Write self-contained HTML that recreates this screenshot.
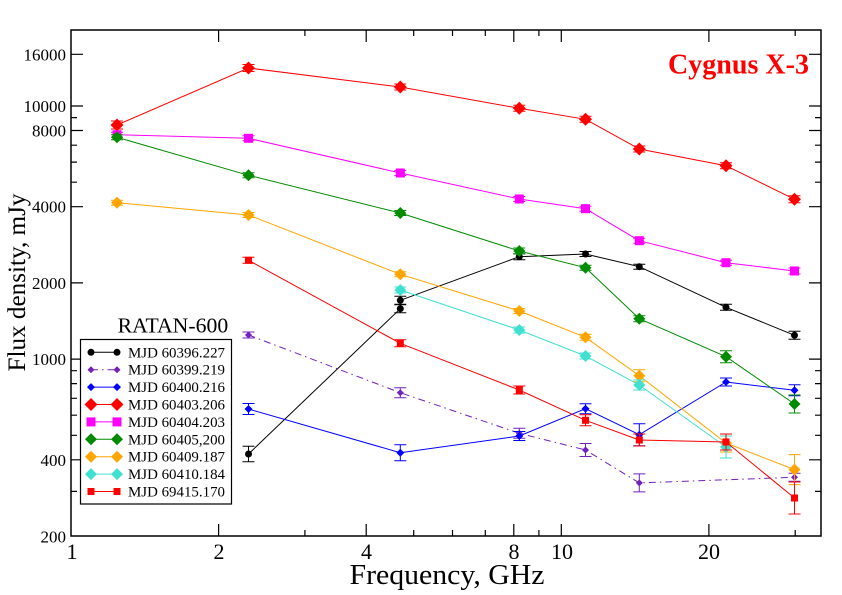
<!DOCTYPE html>
<html><head><meta charset="utf-8">
<style>
html,body{margin:0;padding:0;background:#fff;}
svg{display:block;}
text{font-family:"Liberation Serif","DejaVu Serif",serif;}
</style></head>
<body>
<svg width="842" height="595" viewBox="0 0 842 595" xmlns="http://www.w3.org/2000/svg">
<defs>
 <g id="dR"><polygon points="0,-6.5 6.5,0 0,6.5 -6.5,0" fill="#ff0000"/></g>
 <g id="sM"><rect x="-4.5" y="-4.5" width="9" height="9" fill="#ff00ff"/></g>
 <g id="dG"><polygon points="0,-6 6,0 0,6 -6,0" fill="#008b00"/></g>
 <g id="dO"><polygon points="0,-6 6,0 0,6 -6,0" fill="#ffa500"/></g>
 <g id="dC"><polygon points="0,-6 6,0 0,6 -6,0" fill="#40e0d0"/></g>
 <g id="sR"><rect x="-3.5" y="-3.5" width="7" height="7" fill="#ff0000"/></g>
 <g id="cK"><circle cx="0" cy="0" r="3.5" fill="#000"/></g>
 <g id="dP"><polygon points="0,-3.5 3.5,0 0,3.5 -3.5,0" fill="#7221bc"/></g>
 <g id="dB"><polygon points="0,-4 4,0 0,4 -4,0" fill="#0000ff"/></g>
</defs>
<rect x="0" y="0" width="842" height="595" fill="#fff"/>

<!-- Ticks -->
<g stroke="#000" stroke-width="1.2" fill="none">
 <!-- y major left -->
 <path d="M71,459.8h12 M71,359.1h12 M71,282.9h12 M71,206.7h12 M71,130.5h12 M71,106h12 M71,54.3h12"/>
 <!-- y minor left -->
 <path d="M71,491.4h6 M71,435.3h6 M71,415.2h6 M71,398.3h6 M71,383.6h6 M71,370.7h6 M71,182.2h6 M71,162.1h6 M71,145.2h6 M71,117.6h6"/>
 <!-- y major right -->
 <path d="M821,459.8h-12 M821,359.1h-12 M821,282.9h-12 M821,206.7h-12 M821,130.5h-12 M821,106h-12 M821,54.3h-12"/>
 <path d="M821,491.4h-6 M821,435.3h-6 M821,415.2h-6 M821,398.3h-6 M821,383.6h-6 M821,370.7h-6 M821,182.2h-6 M821,162.1h-6 M821,145.2h-6 M821,117.6h-6"/>
 <!-- x major bottom -->
 <path d="M218.6,536v-12 M366.2,536v-12 M513.8,536v-12 M561.3,536v-12 M708.9,536v-12"/>
 <path d="M304.9,536v-6 M413.7,536v-6 M452.5,536v-6 M485.3,536v-6 M538.9,536v-6 M795.2,536v-6"/>
 <!-- x top -->
 <path d="M218.6,30v12 M366.2,30v12 M513.8,30v12 M561.3,30v12 M708.9,30v12"/>
 <path d="M304.9,30v6 M413.7,30v6 M452.5,30v6 M485.3,30v6 M538.9,30v6 M795.2,30v6"/>
</g>

<!-- Y tick labels -->
<g font-size="17" text-anchor="end" fill="#000">
 <text x="66" y="60.3">16000</text>
 <text x="66" y="112">10000</text>
 <text x="66" y="136.5">8000</text>
 <text x="66" y="212.7">4000</text>
 <text x="66" y="288.9">2000</text>
 <text x="66" y="365.1">1000</text>
 <text x="66" y="465.8">400</text>
 <text x="66" y="542.5">200</text>
</g>
<!-- X tick labels -->
<g font-size="22" text-anchor="middle" fill="#000">
 <text x="72" y="559">1</text>
 <text x="219" y="559">2</text>
 <text x="366.5" y="559">4</text>
 <text x="514" y="559">8</text>
 <text x="562" y="559">10</text>
 <text x="709" y="559">20</text>
</g>
<!-- axis labels -->
<text x="447" y="584" font-size="28" text-anchor="middle" textLength="195" lengthAdjust="spacingAndGlyphs">Frequency, GHz</text>
<text transform="translate(25,282.5) rotate(-90)" font-size="25" text-anchor="middle" textLength="178" lengthAdjust="spacingAndGlyphs">Flux density, mJy</text>
<!-- title -->
<text x="668" y="73.3" font-size="28" font-weight="bold" fill="#ff0000" textLength="141" lengthAdjust="spacingAndGlyphs">Cygnus X-3</text>

<!-- Series: black 60396.227 -->
<g stroke="#000" stroke-width="1" fill="none">
 <polyline points="248.5,454 400.3,308.7 400.3,300.3 519.3,256.7 585.5,254 639.3,266.7 726,307.3 794.5,335.3"/>
 <path d="M248.5,446.3V461.7M242.5,446.3h12M242.5,461.7h12
 M400.3,304.7V312.7M394.3,304.7h12M394.3,312.7h12
 M400.3,296.3V304.3M394.3,296.3h12M394.3,304.3h12
 M519.3,253.7V259.7M513.3,253.7h12M513.3,259.7h12
 M585.5,251.5V256.5M579.5,251.5h12M579.5,256.5h12
 M639.3,264.2V269.2M633.3,264.2h12M633.3,269.2h12
 M726,304.3V310.3M720,304.3h12M720,310.3h12
 M794.5,331.3V339.3M788.5,331.3h12M788.5,339.3h12"/>
</g>
<g>
 <use href="#cK" x="248.5" y="454"/><use href="#cK" x="400.3" y="308.7"/><use href="#cK" x="400.3" y="300.3"/>
 <use href="#cK" x="519.3" y="256.7"/><use href="#cK" x="585.5" y="254"/><use href="#cK" x="639.3" y="266.7"/>
 <use href="#cK" x="726" y="307.3"/><use href="#cK" x="794.5" y="335.3"/>
</g>

<!-- purple 60399.219 -->
<g stroke="#7221bc" stroke-width="1" fill="none">
 <polyline points="248.5,335 400.3,392.7 519.3,433.3 585.5,450 639.3,482.9 794.5,477.3" stroke-dasharray="7,4,1.5,4"/>
 <path d="M248.5,332V338M242.5,332h12M242.5,338h12
 M400.3,387.7V397.7M394.3,387.7h12M394.3,397.7h12
 M519.3,428.3V438.3M513.3,428.3h12M513.3,438.3h12
 M585.5,443.5V456.5M579.5,443.5h12M579.5,456.5h12
 M639.3,473.9V491.9M633.3,473.9h12M633.3,491.9h12
 M794.5,473.3V481.3M788.5,473.3h12M788.5,481.3h12"/>
</g>
<g>
 <use href="#dP" x="248.5" y="335"/><use href="#dP" x="400.3" y="392.7"/><use href="#dP" x="519.3" y="433.3"/>
 <use href="#dP" x="585.5" y="450"/><use href="#dP" x="639.3" y="482.9"/><use href="#dP" x="794.5" y="477.3"/>
</g>

<!-- blue 60400.216 -->
<g stroke="#0000ff" stroke-width="1" fill="none">
 <polyline points="248.5,409 400.3,452.7 519.3,436 585.5,408.7 639.3,434.7 726,382 794.5,390.3"/>
 <path d="M248.5,403.5V414.5M242.5,403.5h12M242.5,414.5h12
 M400.3,444.7V460.7M394.3,444.7h12M394.3,460.7h12
 M519.3,431.5V440.5M513.3,431.5h12M513.3,440.5h12
 M585.5,403.7V413.7M579.5,403.7h12M579.5,413.7h12
 M639.3,423.7V445.7M633.3,423.7h12M633.3,445.7h12
 M726,378V386M720,378h12M720,386h12
 M794.5,384.8V395.8M788.5,384.8h12M788.5,395.8h12"/>
</g>
<g>
 <use href="#dB" x="248.5" y="409"/><use href="#dB" x="400.3" y="452.7"/><use href="#dB" x="519.3" y="436"/>
 <use href="#dB" x="585.5" y="408.7"/><use href="#dB" x="639.3" y="434.7"/><use href="#dB" x="726" y="382"/>
 <use href="#dB" x="794.5" y="390.3"/>
</g>

<!-- red diamonds 60403.206 -->
<g stroke="#ff0000" stroke-width="1" fill="none">
 <polyline points="117,125 248.5,68 400.3,87 519.3,108.3 585.5,119.3 639.3,149 726,165.7 794.5,199.3"/>
 <path d="M117,121V129M111,121h12M111,129h12
 M248.5,64.5V71.5M242.5,64.5h12M242.5,71.5h12
 M400.3,84V90M394.3,84h12M394.3,90h12
 M519.3,105.3V111.3M513.3,105.3h12M513.3,111.3h12
 M585.5,116.3V122.3M579.5,116.3h12M579.5,122.3h12
 M639.3,146V152M633.3,146h12M633.3,152h12
 M726,162.7V168.7M720,162.7h12M720,168.7h12
 M794.5,195.8V202.8M788.5,195.8h12M788.5,202.8h12"/>
</g>
<g>
 <use href="#dR" x="117" y="125"/><use href="#dR" x="248.5" y="68"/><use href="#dR" x="400.3" y="87"/>
 <use href="#dR" x="519.3" y="108.3"/><use href="#dR" x="585.5" y="119.3"/><use href="#dR" x="639.3" y="149"/>
 <use href="#dR" x="726" y="165.7"/><use href="#dR" x="794.5" y="199.3"/>
</g>

<!-- magenta 60404.203 -->
<g stroke="#ff00ff" stroke-width="1" fill="none">
 <polyline points="117,134.7 248.5,138.3 400.3,173 519.3,199 585.5,208.7 639.3,240.7 726,262.7 794.5,271"/>
 <path d="M111,132.2h12M111,137.2h12 M242.5,135.8h12M242.5,140.8h12 M394.3,170.5h12M394.3,175.5h12
 M513.3,196.5h12M513.3,201.5h12 M579.5,206.2h12M579.5,211.2h12 M633.3,238.2h12M633.3,243.2h12
 M720,260.2h12M720,265.2h12 M788.5,268h12M788.5,274h12"/>
</g>
<g>
 <use href="#sM" x="117" y="134.7"/><use href="#sM" x="248.5" y="138.3"/><use href="#sM" x="400.3" y="173"/>
 <use href="#sM" x="519.3" y="199"/><use href="#sM" x="585.5" y="208.7"/><use href="#sM" x="639.3" y="240.7"/>
 <use href="#sM" x="726" y="262.7"/><use href="#sM" x="794.5" y="271"/>
</g>

<!-- green 60405.200 -->
<g stroke="#008b00" stroke-width="1" fill="none">
 <polyline points="117,137.3 248.5,175.3 400.3,213 519.3,251 585.5,267.7 639.3,318.7 726,356.7 794.5,404"/>
 <path d="M111,134.8h12M111,139.8h12 M242.5,172.8h12M242.5,177.8h12 M394.3,210.5h12M394.3,215.5h12
 M513.3,248h12M513.3,254h12 M579.5,265.2h12M579.5,270.2h12 M633.3,315.7h12M633.3,321.7h12
 M726,350.7V362.7M720,350.7h12M720,362.7h12
 M794.5,395V413M788.5,395h12M788.5,413h12"/>
</g>
<g>
 <use href="#dG" x="117" y="137.3"/><use href="#dG" x="248.5" y="175.3"/><use href="#dG" x="400.3" y="213"/>
 <use href="#dG" x="519.3" y="251"/><use href="#dG" x="585.5" y="267.7"/><use href="#dG" x="639.3" y="318.7"/>
 <use href="#dG" x="726" y="356.7"/><use href="#dG" x="794.5" y="404"/>
</g>

<!-- orange 60409.187 -->
<g stroke="#ffa500" stroke-width="1" fill="none">
 <polyline points="117,202.7 248.5,215 400.3,274.3 519.3,311 585.5,337.3 639.3,375.7 726,443 794.5,469.6"/>
 <path d="M111,200.2h12M111,205.2h12 M242.5,212.5h12M242.5,217.5h12 M394.3,271.8h12M394.3,276.8h12
 M513.3,308.5h12M513.3,313.5h12 M579.5,334.3h12M579.5,340.3h12
 M639.3,369.7V381.7M633.3,369.7h12M633.3,381.7h12
 M726,434V452M720,434h12M720,452h12
 M794.5,454.6V484.6M788.5,454.6h12M788.5,484.6h12"/>
</g>
<g>
 <use href="#dO" x="117" y="202.7"/><use href="#dO" x="248.5" y="215"/><use href="#dO" x="400.3" y="274.3"/>
 <use href="#dO" x="519.3" y="311"/><use href="#dO" x="585.5" y="337.3"/><use href="#dO" x="639.3" y="375.7"/>
 <use href="#dO" x="726" y="443"/><use href="#dO" x="794.5" y="469.6"/>
</g>

<!-- cyan 60410.184 -->
<g stroke="#40e0d0" stroke-width="1" fill="none">
 <polyline points="400.3,290 519.3,330 585.5,356 639.3,385 726,447"/>
 <path d="M394.3,287h12M394.3,293h12 M513.3,327h12M513.3,333h12 M579.5,353h12M579.5,359h12
 M639.3,380V390M633.3,380h12M633.3,390h12
 M726,436V458M720,436h12M720,458h12"/>
</g>
<g>
 <use href="#dC" x="400.3" y="290"/><use href="#dC" x="519.3" y="330"/><use href="#dC" x="585.5" y="356"/>
 <use href="#dC" x="639.3" y="385"/><use href="#dC" x="726" y="447"/>
</g>

<!-- red squares 69415.170 -->
<g stroke="#ff0000" stroke-width="1" fill="none">
 <polyline points="248.5,260.3 400.3,343.3 519.3,390 585.5,420.3 639.3,440 726,442 794.5,498"/>
 <path d="M248.5,257.3V263.3M242.5,257.3h12M242.5,263.3h12
 M400.3,339.8V346.8M394.3,339.8h12M394.3,346.8h12
 M519.3,386V394M513.3,386h12M513.3,394h12
 M585.5,414.8V425.8M579.5,414.8h12M579.5,425.8h12
 M639.3,434V446M633.3,434h12M633.3,446h12
 M726,434V450M720,434h12M720,450h12
 M794.5,482V514M788.5,482h12M788.5,514h12"/>
</g>
<g>
 <use href="#sR" x="248.5" y="260.3"/><use href="#sR" x="400.3" y="343.3"/><use href="#sR" x="519.3" y="390"/>
 <use href="#sR" x="585.5" y="420.3"/><use href="#sR" x="639.3" y="440"/><use href="#sR" x="726" y="442"/>
 <use href="#sR" x="794.5" y="498"/>
</g>

<!-- frame -->
<rect x="71" y="30" width="750" height="506" fill="none" stroke="#000" stroke-width="1.5"/>

<!-- Legend -->
<text x="117.7" y="332.7" font-size="21" textLength="110.5" lengthAdjust="spacingAndGlyphs">RATAN-600</text>
<rect x="80.5" y="339.5" width="151" height="164.5" fill="#fff" stroke="#000" stroke-width="1.2"/>
<g stroke-width="1" fill="none">
 <line x1="91" y1="352.3" x2="117" y2="352.3" stroke="#000"/>
 <line x1="91" y1="369.7" x2="117" y2="369.7" stroke="#7221bc" stroke-dasharray="7,4,1.5,4"/>
 <line x1="91" y1="387.1" x2="117" y2="387.1" stroke="#0000ff"/>
 <line x1="91" y1="404.5" x2="117" y2="404.5" stroke="#ff0000"/>
 <line x1="91" y1="421.9" x2="117" y2="421.9" stroke="#ff00ff"/>
 <line x1="91" y1="439.3" x2="117" y2="439.3" stroke="#008b00"/>
 <line x1="91" y1="456.7" x2="117" y2="456.7" stroke="#ffa500"/>
 <line x1="91" y1="474.1" x2="117" y2="474.1" stroke="#40e0d0"/>
 <line x1="91" y1="491.5" x2="117" y2="491.5" stroke="#ff0000"/>
</g>
<g>
 <use href="#cK" x="91" y="352.3"/><use href="#cK" x="117" y="352.3"/>
 <use href="#dP" x="91" y="369.7"/><use href="#dP" x="117" y="369.7"/>
 <use href="#dB" x="91" y="387.1"/><use href="#dB" x="117" y="387.1"/>
 <use href="#dR" x="91" y="404.5"/><use href="#dR" x="117" y="404.5"/>
 <use href="#sM" x="91" y="421.9"/><use href="#sM" x="117" y="421.9"/>
 <use href="#dG" x="91" y="439.3"/><use href="#dG" x="117" y="439.3"/>
 <use href="#dO" x="91" y="456.7"/><use href="#dO" x="117" y="456.7"/>
 <use href="#dC" x="91" y="474.1"/><use href="#dC" x="117" y="474.1"/>
 <use href="#sR" x="91" y="491.5"/><use href="#sR" x="117" y="491.5"/>
</g>
<g font-size="15" fill="#000">
 <text x="128" y="357.3" textLength="97" lengthAdjust="spacingAndGlyphs">MJD 60396.227</text>
 <text x="128" y="374.7" textLength="97" lengthAdjust="spacingAndGlyphs">MJD 60399.219</text>
 <text x="128" y="392.1" textLength="97" lengthAdjust="spacingAndGlyphs">MJD 60400.216</text>
 <text x="128" y="409.5" textLength="97" lengthAdjust="spacingAndGlyphs">MJD 60403.206</text>
 <text x="128" y="426.9" textLength="97" lengthAdjust="spacingAndGlyphs">MJD 60404.203</text>
 <text x="128" y="444.3" textLength="97" lengthAdjust="spacingAndGlyphs">MJD 60405,200</text>
 <text x="128" y="461.7" textLength="97" lengthAdjust="spacingAndGlyphs">MJD 60409.187</text>
 <text x="128" y="479.1" textLength="97" lengthAdjust="spacingAndGlyphs">MJD 60410.184</text>
 <text x="128" y="496.5" textLength="97" lengthAdjust="spacingAndGlyphs">MJD 69415.170</text>
</g>
</svg>
</body></html>
